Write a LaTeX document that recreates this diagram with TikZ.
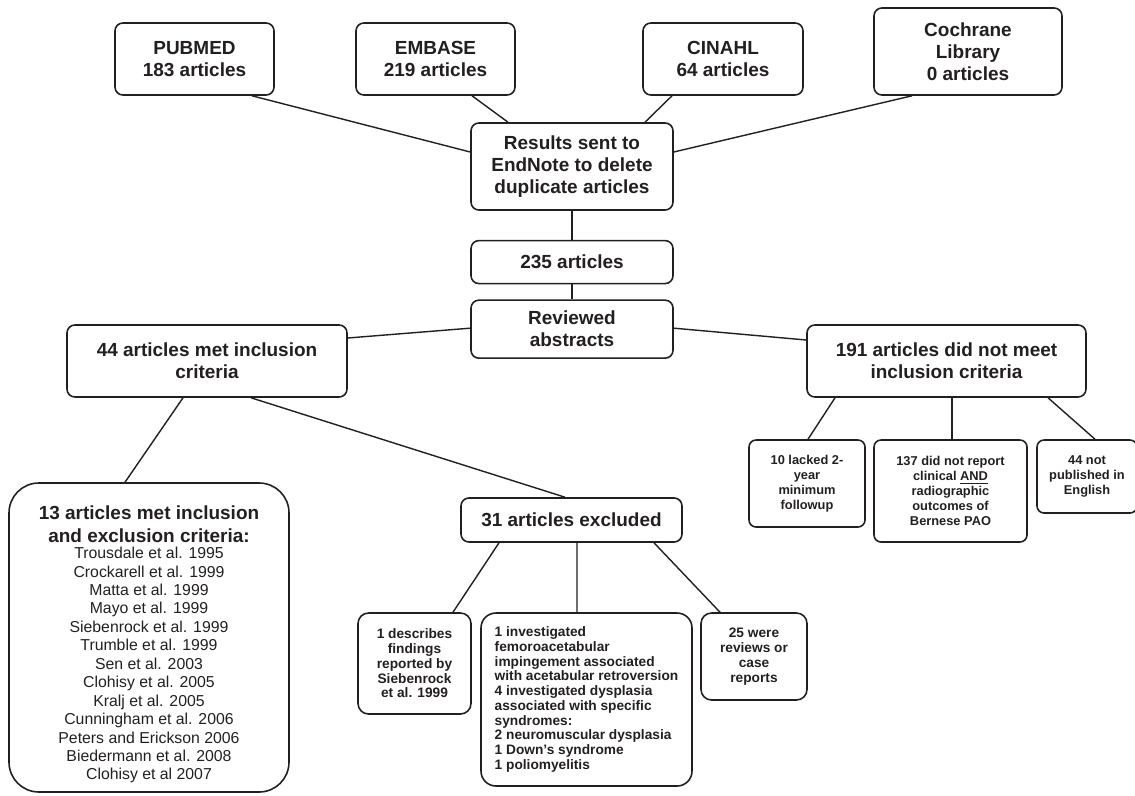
\documentclass[tikz,border=0pt]{standalone}
\usepackage{fontspec}
\setmainfont{Liberation Sans}
\usetikzlibrary{calc,positioning}
\definecolor{ink}{HTML}{231F20}
\newcommand\headfont{\bfseries\fontsize{10.8}{12.5}\selectfont}

\begin{document}
\begin{tikzpicture}[
			x=0.2mm, y=-0.2mm,
			block/.style={draw=ink, text=ink, line width=0.9pt, rounded corners=4.5pt, inner sep=0pt, align=center, font=\headfont},
			smallblock/.style={block, rounded corners=4pt, font=\bfseries\fontsize{7.3}{8.5}\selectfont},
			midblock/.style={block, font=\bfseries\fontsize{7.8}{8.4}\selectfont},
			link/.style={draw=ink, line width=0.8pt},
		]
			\useasboundingbox (0,0) rectangle (1135,795);

			\node[block, minimum width=31.8mm, minimum height=14.4mm] (pubmed) at (194.5,59) {PUBMED\\183 articles};
			\node[block, minimum width=31.8mm, minimum height=14.4mm] (embase) at (435.5,59) {EMBASE\\219 articles};
			\node[block, minimum width=32mm, minimum height=14.4mm] (cinahl) at (723,59) {CINAHL\\64 articles};
			\node[block, minimum width=37.6mm, minimum height=17.4mm] (cochrane) at (968,51.5) {Cochrane\\Library\\0 articles};

			\node[block, minimum width=40.4mm, minimum height=17.4mm] (results) at (572,166.5) {Results sent to\\EndNote to delete\\duplicate articles};
			\node[block, minimum width=40.4mm, minimum height=8.6mm, below=5.8mm of results] (articles) {235 articles};
			\node[block, minimum width=40.4mm, minimum height=11.6mm, below=3mm of articles] (abstracts) {Reviewed\\abstracts};

			\node[block, minimum width=56mm, minimum height=14.4mm] (met) at (207,361) {44 articles met inclusion\\criteria};
			\node[block, minimum width=55.8mm, minimum height=14.4mm] (notmet) at (946.5,361) {191 articles did not meet\\inclusion criteria};

			\node[smallblock, minimum width=23.2mm, minimum height=17.4mm] (followup) at (807,483.5) {10 lacked 2-\\year\\minimum\\followup};
			\node[smallblock, minimum width=30.6mm, minimum height=20.4mm] (outcomes) at (950.5,491) {137 did not report\\clinical \underline{AND}\\radiographic\\outcomes of\\Bernese PAO};
			\node[smallblock, minimum width=20mm, minimum height=14.6mm] (english) at (1087,476.5) {44 not\\published in\\English};

			\node[block, rounded corners=17pt, minimum width=56mm, minimum height=61.8mm, font=\fontsize{9}{10.5}\selectfont] (included) at (149,637.5) {{\headfont\rule{0pt}{15.8pt}13 articles met inclusion}\\[2.3pt]{\headfont and exclusion criteria:}\\[-1.1pt]Trousdale et al. 1995\\Crockarell et al. 1999\\Matta et al. 1999\\Mayo et al. 1999\\Siebenrock et al. 1999\\Trumble et al. 1999\\Sen et al. 2003\\Clohisy et al. 2005\\Kralj et al. 2005\\Cunningham et al. 2006\\Peters and Erickson 2006\\Biedermann et al. 2008\\Clohisy et al 2007};
			\node[block, minimum width=44.2mm, minimum height=8.8mm] (excluded) at (571.5,520) {31 articles excluded};

			\node[midblock, rounded corners=6pt, minimum width=22.6mm, minimum height=20.2mm] (findings) at (414.5,663.5) {1 describes\\findings\\reported by\\Siebenrock\\et al. 1999};
			\node[midblock, rounded corners=8.5pt, minimum width=42.2mm, minimum height=34.6mm, align=left] (syndromes) at (586.5,699.5) {1 investigated\\femoroacetabular\\impingement associated\\with acetabular retroversion\\4 investigated dysplasia\\associated with specific\\syndromes:\\2 neuromuscular dysplasia\\1 Down's syndrome\\1 poliomyelitis};
			\node[midblock, rounded corners=6pt, minimum width=21.2mm, minimum height=17.4mm] (reviews) at (754,656.5) {25 were\\reviews or\\case\\reports};

			\draw[link] ($(pubmed.south)+(57.5,0)$) -- ($(results.west)+(0,-14.5)$);
			\draw[link] ($(embase.south)+(36.5,0)$) -- ($(results.north)+(-64,0)$);
			\draw[link] ($(cinahl.south)+(-51,0)$) -- ($(results.north)+(73,0)$);
			\draw[link] ($(cochrane.south)+(-56,0)$) -- ($(results.east)+(0,-14.5)$);

			\draw[link] (results) -- (articles);
			\draw[link] (articles) -- (abstracts);

			\draw[link] ($(abstracts.west)+(0,-1)$) -- ($(met.east)+(0,-23)$);
			\draw[link] ($(abstracts.east)+(0,-1)$) -- ($(notmet.west)+(0,-21)$);

			\draw[link] ($(met.south)+(-24,0)$) -- ($(included.north)+(-24,0)$);
			\draw[link] ($(met.south)+(44,0)$) -- ($(excluded.north)+(-6.5,0)$);

			\draw[link] ($(notmet.south)+(-111.5,0)$) -- ($(followup.north)+(1,0)$);
			\draw[link] ($(notmet.south)+(5.5,0)$) -- ($(outcomes.north)+(1.5,0)$);
			\draw[link] ($(notmet.south)+(101.5,0)$) -- ($(english.north)+(8,0)$);

			\draw[link] ($(excluded.south)+(-72.5,0)$) -- ($(findings.north)+(38.5,0)$);
			\draw[link] ($(excluded.south)+(5.5,0)$) -- ($(syndromes.north)+(-9.5,0)$);
			\draw[link] ($(excluded.south)+(82.5,0)$) -- ($(reviews.north)+(-34,0)$);
		\end{tikzpicture}
\end{document}
